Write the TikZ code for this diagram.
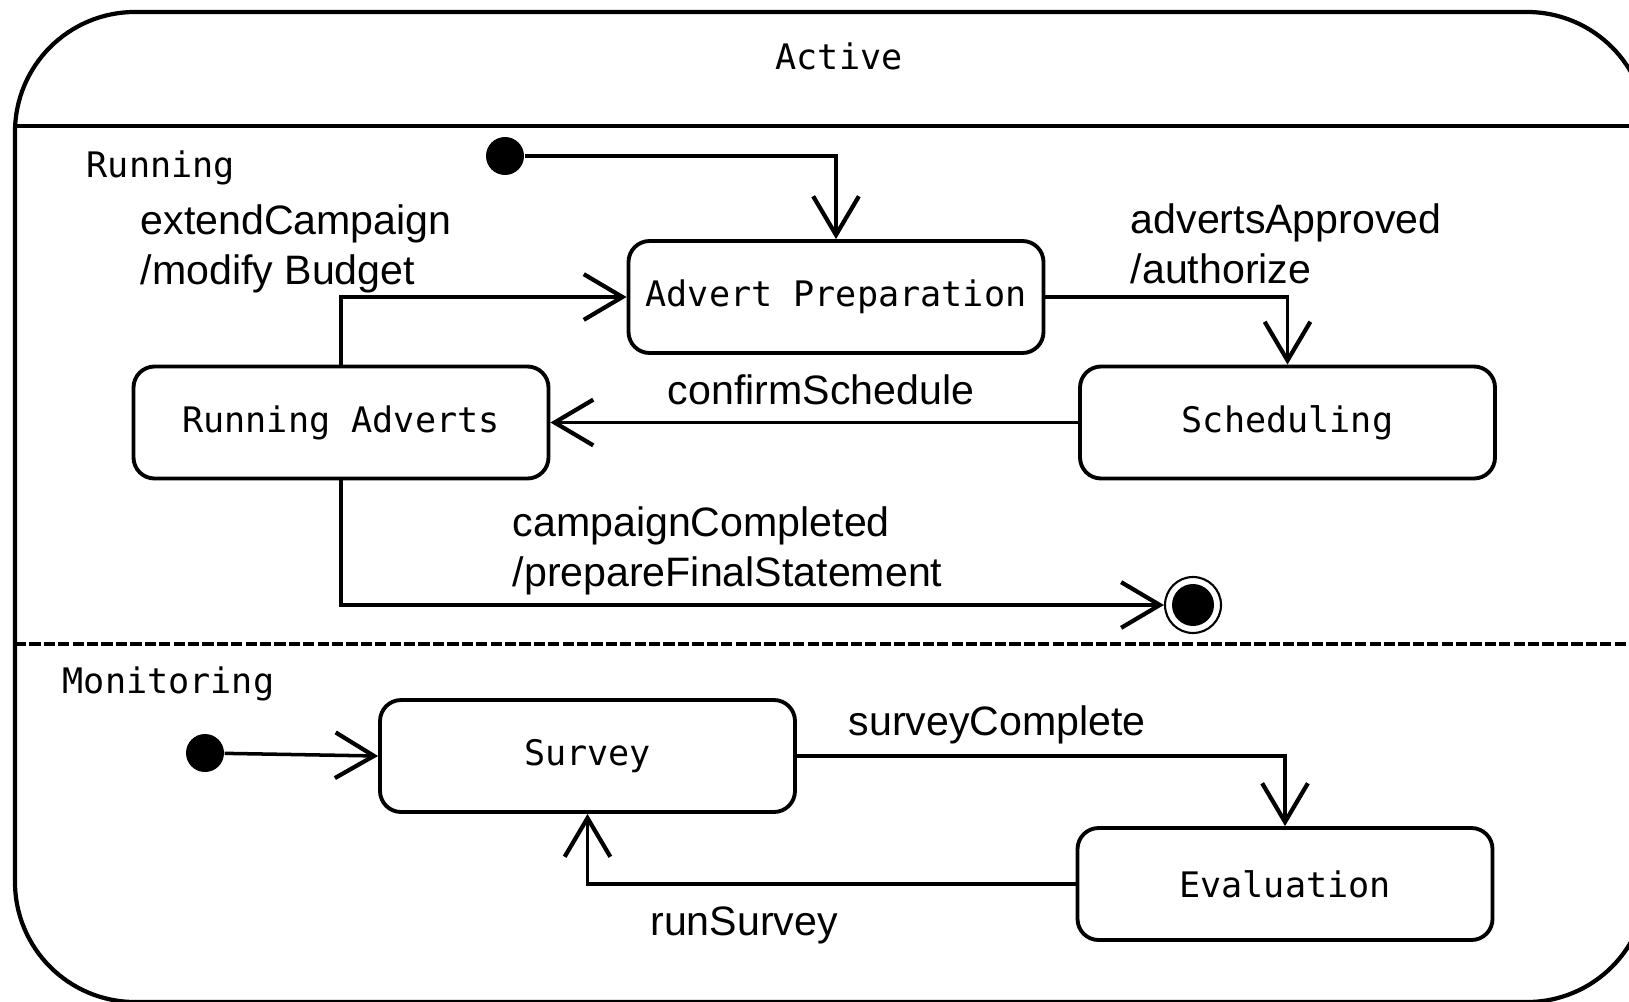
\documentclass[tikz,border=0pt]{standalone}
\usepackage{fontspec}
\setmainfont{Liberation Sans}
\newfontfamily\statefont{DejaVu Sans Mono}
\usetikzlibrary{arrows.meta}

\begin{document}
\begin{tikzpicture}[
  >={Straight Barb[length=11pt,width=13pt,line width=1.2pt]},
  state/.style={draw, line width=1.1pt, rounded corners=6pt,
    minimum width=4.15cm, minimum height=1.12cm,
    font=\statefont\fontsize{10}{12}\selectfont},
  region/.style={font=\statefont\fontsize{10}{12}\selectfont, inner sep=0pt},
  trans/.style={font=\fontsize{11.7}{14.2}\selectfont, align=left, inner sep=0pt},
  edge/.style={->, line width=1pt},
  initial/.style={circle, fill=black, minimum size=0.38cm, inner sep=0pt},
]

  % --- 1. 全体 (Active) ---
  \useasboundingbox (0,0) rectangle (16.29,10.01);
  \clip (0,0) rectangle (16.29,10.01);
  \draw[line width=1.2pt, rounded corners=1.2cm] (0.15,-0.01) rectangle (16.47,9.89);
  \draw[line width=1pt] (0.15,8.75) -- (16.47,8.75);
  \draw[line width=1.3pt, dash pattern=on 3.2pt off 0.9pt] (0.15,3.57) -- (16.47,3.57);
  \node[region] (active) at (8.39,9.45) {Active};

  % --- 2. Running 領域 ---
  \node[region, anchor=west] (running) at (0.86,8.33) {Running};
  \node[initial] (init) at (5.05,8.45) {};
  \node[state] (adv)    at (8.36,7.04)  {Advert Preparation};
  \node[state] (sched)  at (12.875,5.785) {Scheduling};
  \node[state] (runadv) at (3.41,5.785) {Running Adverts};
  \node[circle, draw, line width=0.6pt, minimum size=0.56cm, inner sep=0pt] (fin) at (11.93,3.96) {};
  \node[circle, fill=black, minimum size=0.42cm, inner sep=0pt] (finin) at (fin) {};

  \draw[edge] (init) -| (adv.north);
  \draw[edge] (runadv.north) |- (adv.west);
  \draw[edge] (adv.east) -| (sched.north);
  \draw[edge] (sched.west) -- (runadv.east);
  \draw[edge] (runadv.south) |- (fin.west);

  \node[trans, anchor=west] (lextend) at (1.40,7.52) {extendCampaign\\/modify Budget};
  \node[trans, anchor=west] (lapprove) at (11.30,7.57) {advertsApproved\\/authorize};
  \node[trans] (lconfirm) at (8.21,6.11) {confirmSchedule};
  \node[trans, anchor=west] (lcomplete) at (5.12,4.50) {campaignCompleted\\/prepareFinalStatement};

  % --- 3. Monitoring 領域 ---
  \node[region, anchor=west] (monitoring) at (0.62,3.17) {Monitoring};
  \node[initial] (minit) at (2.05,2.48) {};
  \node[state] (survey) at (5.875,2.45) {Survey};
  \node[state] (eval)   at (12.85,1.17) {Evaluation};

  \draw[edge] (minit) -- (survey.west);
  \draw[edge] (survey.east) -| (eval.north);
  \draw[edge] (eval.west) -| (survey.south);

  \node[trans, anchor=west] (lsurvey) at (8.48,2.76) {surveyComplete};
  \node[trans] (lrun) at (7.44,0.76) {runSurvey};

\end{tikzpicture}
\end{document}
